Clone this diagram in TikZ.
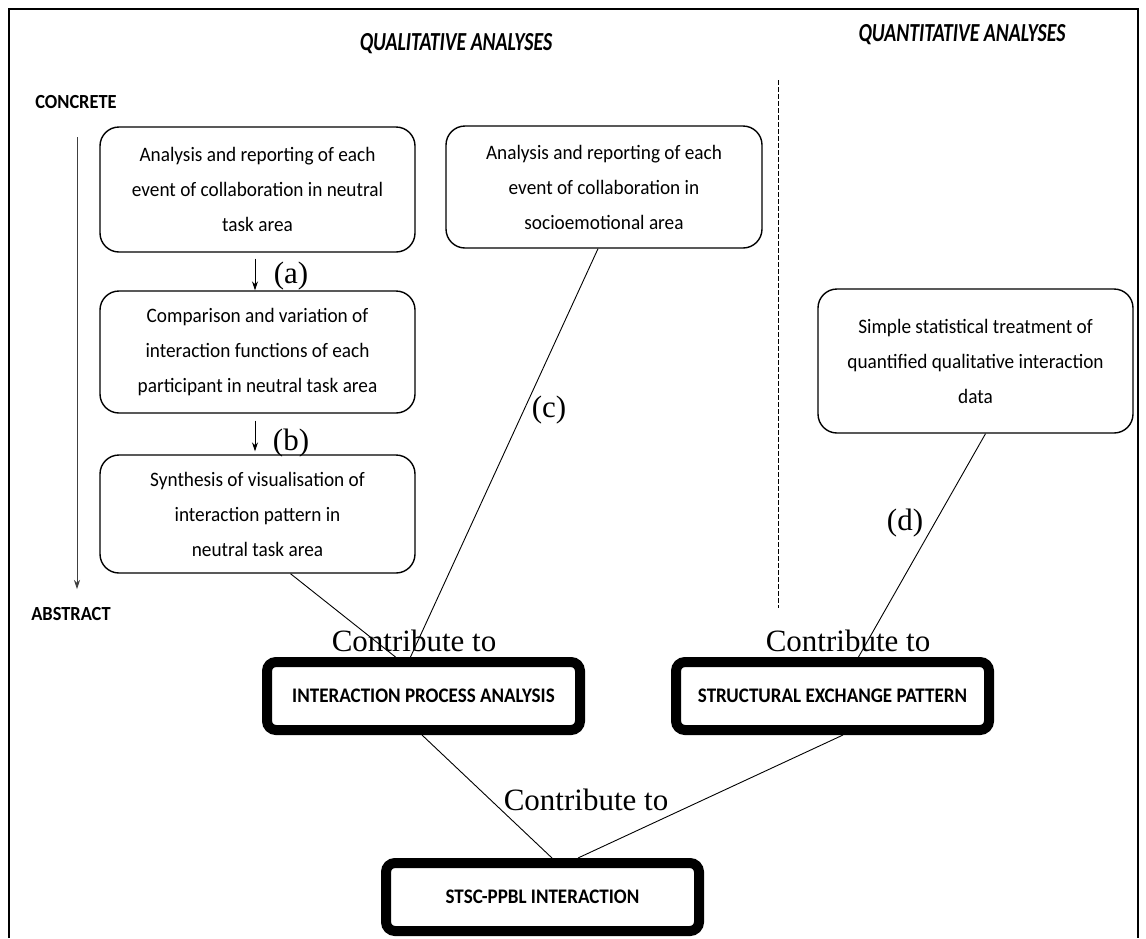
\documentclass[tikz,border=0pt]{standalone}
\usepackage{fontspec}
\setmainfont{Carlito}
\newfontfamily\tnr{Liberation Serif}
\newfontfamily\boxfont[FakeStretch=0.94]{Carlito}
\newfontfamily\thickfont[FakeStretch=0.92]{Carlito}
\newfontfamily\headfont[FakeStretch=0.76]{Carlito}
\usetikzlibrary{arrows.meta}
\begin{document}
\begin{tikzpicture}[x=1pt,y=-1pt,
  softbox/.style={draw, line width=1.4pt, rounded corners=19pt, align=center,
    inner sep=0pt, text=black, font=\boxfont\fontsize{20.5}{35}\selectfont},
  thickbox/.style={draw, line width=10pt, rounded corners=9pt, align=center,
    minimum width=313pt, minimum height=68pt, inner sep=0pt,
    font=\thickfont\bfseries\fontsize{20.7}{22}\selectfont},
  lbl/.style={font=\tnr\fontsize{31}{31}\selectfont, inner sep=0pt},
  head/.style={font=\headfont\bfseries\itshape\fontsize{26}{28}\selectfont, inner sep=0pt},
  side/.style={font=\thickfont\bfseries\fontsize{20}{22}\selectfont, inner sep=0pt},
  conn/.style={line width=0.9pt},
  smallarrow/.style={line width=0.9pt, -{Stealth[length=9pt,width=6pt]}}]
\useasboundingbox (0,0) rectangle (1146,938);
% frame
\draw[line width=1.5pt] (9,938) -- (9,9) -- (1138,9) -- (1138,938);
% headers
\node[head] (qual) at (456,44) {QUALITATIVE ANALYSES};
\node[head] (quant) at (962,35) {QUANTITATIVE ANALYSES};
\node[side] (concrete) at (76,102) {CONCRETE};
\node[side] (abstract) at (71,614) {ABSTRACT};
\coordinate (ltop) at (77,137);
\coordinate (lbot) at (77,589);
\draw[line width=0.8pt, black!75, -{Stealth[length=9pt,width=6pt]}] (ltop) -- (lbot);
% dashed divider
\coordinate (dtop) at (778,80);
\coordinate (dbot) at (778,608);
\draw[line width=0.9pt, dash pattern=on 5pt off 2pt] (dtop) -- (dbot);
% boxes
\node[softbox, minimum width=315pt, minimum height=125pt] (b1) at (257.5,189.5)
  {Analysis and reporting of each\\event of collaboration in neutral\\task area};
\node[softbox, minimum width=316pt, minimum height=122pt] (b2) at (604,187)
  {Analysis and reporting of each\\event of collaboration in\\socioemotional area};
\node[softbox, minimum width=315pt, minimum height=122pt] (b3) at (257.5,352)
  {Comparison and variation of\\interaction functions of each\\participant in neutral task area};
\node[softbox, minimum width=315pt, minimum height=118pt] (b4) at (257.5,514)
  {Synthesis of visualisation of\\interaction pattern in\\neutral task area};
\node[softbox, minimum width=315pt, minimum height=144pt] (b5) at (975.5,361)
  {Simple statistical treatment of\\quantified qualitative interaction\\data};
\node[thickbox] (ipa) at (423.5,696) {INTERACTION PROCESS ANALYSIS};
\node[thickbox] (sep) at (832.5,696) {STRUCTURAL EXCHANGE PATTERN};
\node[thickbox] (stsc) at (542.5,897) {STSC-PPBL INTERACTION};
% arrows a, b
\draw[smallarrow, shorten <=6pt] ([xshift=-2.5pt]b1.south) -- ([xshift=-2.5pt]b3.north);
\draw[smallarrow, shorten <=7pt, shorten >=3pt] ([xshift=-2.5pt]b3.south) -- ([xshift=-2.5pt]b4.north);
\node[lbl] (la) at (291,276) {(a)};
\node[lbl] (lb) at (291,443) {(b)};
% connectors
\draw[conn] ([xshift=33pt]b4.south) -- ([xshift=-28pt]ipa.north);
\draw[conn] ([xshift=-6pt]b2.south) -- ([xshift=-13pt]ipa.north);
\draw[conn] ([xshift=10pt]b5.south) -- ([xshift=26pt]sep.north);
\draw[conn] ([xshift=-1.5pt]ipa.south) -- ([xshift=9.5pt]stsc.north);
\draw[conn] ([xshift=10.5pt]sep.south) -- ([xshift=35.5pt]stsc.north);
\node[lbl] (lc) at (549,410) {(c)};
\node[lbl] (ld) at (905,523) {(d)};
\node[lbl] (ct1) at (414,641) {Contribute to};
\node[lbl] (ct2) at (848,641) {Contribute to};
\node[lbl] (ct3) at (586,800) {Contribute to};
\end{tikzpicture}
\end{document}
